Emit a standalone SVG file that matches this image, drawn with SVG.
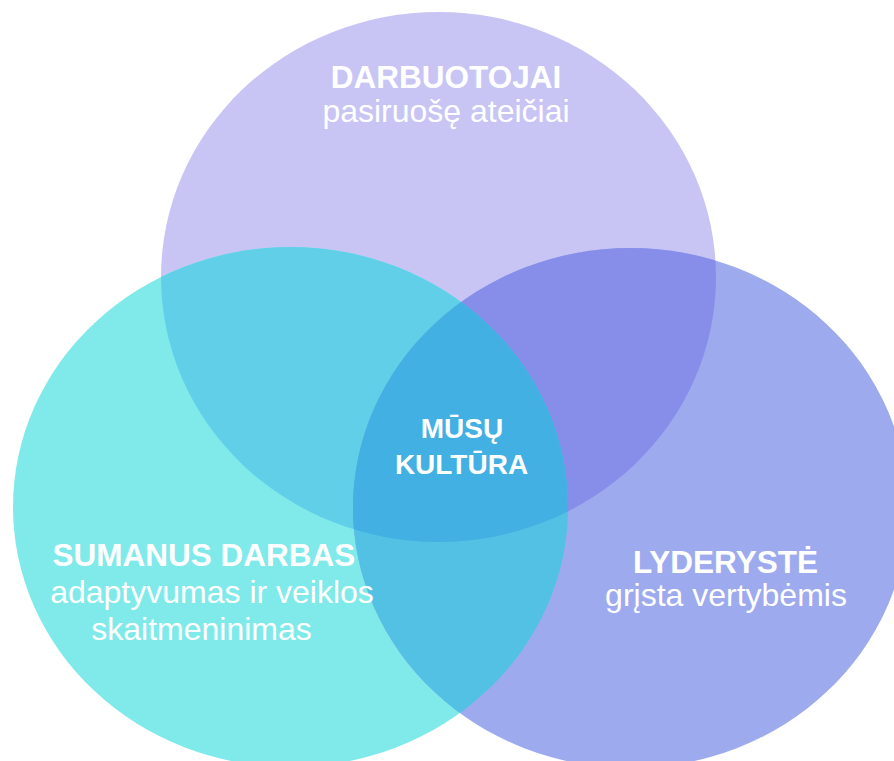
<svg xmlns="http://www.w3.org/2000/svg" xmlns:xlink="http://www.w3.org/1999/xlink" width="894" height="761" viewBox="0 0 894 761">
<style>
text{font-family:"Liberation Sans",Arial,sans-serif;fill:#ffffff;text-anchor:middle}
.b{font-weight:bold;font-size:31.5px}
.r{font-size:32px}
.c{font-weight:bold;font-size:28px}
</style>
<defs>
<ellipse id="eT" cx="438.5" cy="277" rx="277.5" ry="265"/>
<ellipse id="eL" cx="290.5" cy="507" rx="277.5" ry="260"/>
<ellipse id="eR" cx="630.5" cy="508" rx="277.5" ry="260"/>
<clipPath id="cT"><use href="#eT"/></clipPath>
<clipPath id="cL"><use href="#eL"/></clipPath>
</defs>
<rect width="894" height="761" fill="#ffffff"/>
<g id="darbuotojai">
<use href="#eT" fill="#c8c5f5"/>
</g>
<g id="sumanus-darbas">
<use href="#eL" fill="#80eaea"/>
</g>
<g id="lyderyste">
<use href="#eR" fill="#9eaaee"/>
</g>
<g id="overlaps">
<use href="#eL" fill="#62cfe9" clip-path="url(#cT)"/>
<use href="#eR" fill="#868ee9" clip-path="url(#cT)"/>
<use href="#eR" fill="#52c1e4" clip-path="url(#cL)"/>
<g clip-path="url(#cT)"><use href="#eR" fill="#42b0e2" clip-path="url(#cL)"/></g>
</g>
<g id="labels">
<text class="b" x="446" y="88">DARBUOTOJAI</text>
<text class="r" x="446" y="122">pasiruošę ateičiai</text>
<text class="b" x="204" y="566">SUMANUS DARBAS</text>
<text class="r" x="212" y="603">adaptyvumas ir veiklos</text>
<text class="r" x="201.5" y="640">skaitmeninimas</text>
<text class="b" x="725.5" y="573">LYDERYSTĖ</text>
<text class="r" x="726" y="606">grįsta vertybėmis</text>
</g>
<g id="musu-kultura">
<text class="c" x="462" y="438">MŪSŲ</text>
<text class="c" x="461.5" y="474">KULTŪRA</text>
</g>
</svg>
